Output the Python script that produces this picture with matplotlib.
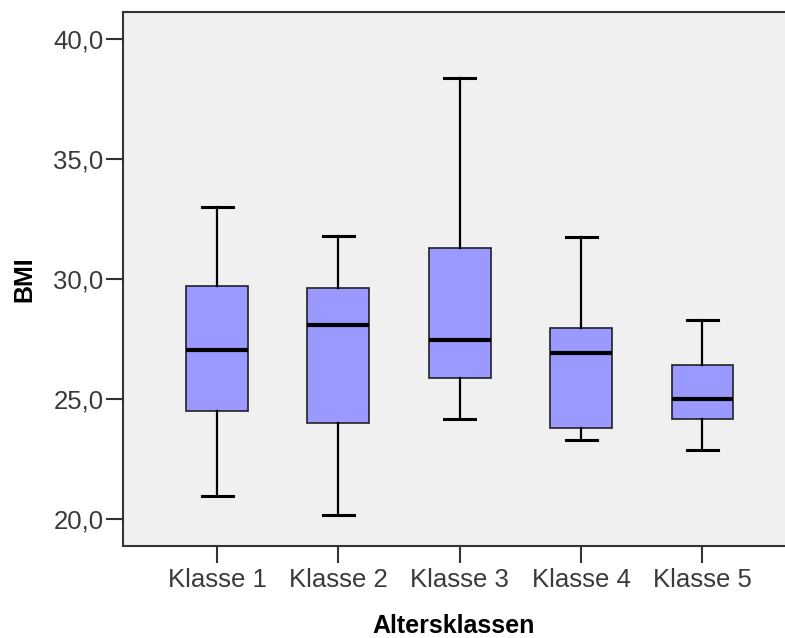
import matplotlib
matplotlib.use("Agg")
import matplotlib.pyplot as plt

# BMI per age class
classes = ["Klasse 1", "Klasse 2", "Klasse 3", "Klasse 4", "Klasse 5"]
whislo = [20.96, 20.17, 24.17, 23.29, 22.88]
q1 = [24.5, 24.0, 25.88, 23.79, 24.17]
med = [27.04, 28.1, 27.46, 26.92, 25.0]
q3 = [29.71, 29.63, 31.29, 27.96, 26.42]
whishi = [33.0, 31.79, 38.38, 31.75, 28.29]

yticks = [20, 25, 30, 35, 40]
ytick_labels = ["20,0", "25,0", "30,0", "35,0", "40,0"]

plt.rcParams['font.family'] = ['Liberation Sans', 'DejaVu Sans']

stats = []
for i in range(len(classes)):
    stats.append({"label": classes[i], "whislo": whislo[i], "q1": q1[i],
                  "med": med[i], "q3": q3[i], "whishi": whishi[i], "fliers": []})

fig = plt.figure(figsize=(7.85, 6.38), dpi=100)
ax = fig.add_axes([123 / 785, 92 / 638, 1 - 123 / 785, (546 - 12) / 638])
ax.set_facecolor("#f0f0f0")

ax.bxp(stats, positions=range(1, 6), widths=0.51, patch_artist=True,
       showfliers=False,
       boxprops=dict(facecolor="#9999ff", edgecolor="#222222", linewidth=1.2),
       medianprops=dict(color="black", linewidth=3),
       whiskerprops=dict(color="black", linewidth=1.6),
       capprops=dict(color="black", linewidth=2.2))

ax.set_xlim(0.225, 5.68)
ax.set_ylim(18.875, 41.125)
ax.set_yticks(yticks)
ax.set_yticklabels(ytick_labels)
ax.set_xticks(range(1, 6))
ax.set_xticklabels(classes)

ax.tick_params(axis="both", length=12, width=1.5, color="#333333",
               labelsize=18.5, labelcolor="#3a3a3a", pad=2)
ax.tick_params(axis="x", pad=4)

for side in ["left", "bottom", "top"]:
    ax.spines[side].set_linewidth(1.5)
    ax.spines[side].set_color("#333333")
ax.spines["right"].set_visible(False)

ax.set_xlabel("Altersklassen", fontsize=18, fontweight="bold", labelpad=16)
ax.set_ylabel("BMI", fontsize=18, fontweight="bold", labelpad=12)

fig.savefig("out.png", dpi=100)
